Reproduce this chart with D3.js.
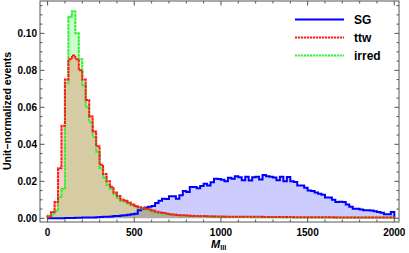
<!DOCTYPE html>
<html><head><meta charset="utf-8">
<script src="https://cdn.jsdelivr.net/npm/d3@7"></script>
<style>body{margin:0;background:#fff}svg{display:block}text{font-family:"Liberation Sans",Arial,sans-serif}</style>
</head><body><svg id="c" width="409" height="253"></svg>
<script>
const binWidth = 20;
const seriesNames = ["SG","ttw","irred"];
const sg = [0,0,0,0,0,0.0001,0.0002,0.0002,0.0003,0.0003,0.0004,0.0004,0.0005,0.0005,0.0006,
 0.0007,0.0008,0.0009,0.001,0.0012,0.0013,0.0015,0.0017,0.0019,0.0022,
 0.0025,0.0043,0.0050,0.0058,0.0063,0.0066,0.0083,0.0095,0.0106,0.0104,0.0119,0.0119,0.0106,0.0124,0.0148,
 0.0142,0.0169,0.0169,0.0162,0.0175,0.0187,0.0178,0.0195,0.0214,0.0212,
 0.0208,0.0200,0.0219,0.0214,0.0228,0.0222,0.0206,0.0225,0.0204,0.0222,
 0.0225,0.0210,0.0234,0.0228,0.0225,0.0220,0.0206,0.0225,0.0200,0.0223,
 0.0200,0.0196,0.0178,0.0178,0.0165,0.0151,0.0148,0.0140,0.0133,0.0128,
 0.0112,0.0112,0.0100,0.0088,0.0090,0.0088,0.0075,0.0062,0.0052,0.0052,
 0.0048,0.0043,0.0043,0.0042,0.0038,0.0034,0.0030,0.0022,0.0022,0.0034];
const ttw = [0.001,0.0034,0.0088,0.027,0.050,0.075,0.086,0.088,0.086,0.080,
 0.075,0.064,0.055,0.047,0.039,0.029,0.024,0.020,0.017,0.014,
 0.012,0.010,0.0095,0.0085,0.0075,0.0066,0.006,0.0056,0.0052,0.0048,
 0.0042,0.0036,0.0032,0.0028,0.0025,0.0022,0.002,0.0018,0.0017,0.0016,
 0.0015,0.0014,0.0013,0.0013,0.0012,0.0012,0.0011,0.0011,0.001,0.001,
 0.001,0.0009,0.0009,0.0009,0.0009,0.0009,0.0008,0.0008,0.0008,0.0008,
 0.0008,0.0008,0.0007,0.0007,0.0007,0.0007,0.0007,0.0007,0.0007,0.0007,
 0.0007,0.0006,0.0006,0.0006,0.0006,0.0006,0.0006,0.0006,0.0006,0.0006,
 0.0006,0.0006,0.0006,0.0005,0.0005,0.0005,0.0005,0.0005,0.0005,0.0005,
 0.0005,0.0005,0.0005,0.0005,0.0005,0.0005,0.0005,0.0005,0.0005,0.0005];
const irred = [0.0015,0.002,0.004,0.0115,0.016,0.073,0.109,0.112,0.100,0.086,
 0.072,0.060,0.052,0.044,0.036,0.027,0.022,0.018,0.016,0.013,
 0.011,0.0095,0.009,0.008,0.007,0.0063,0.0058,0.0053,0.0048,0.0042,
 0.0036,0.0031,0.0027,0.0024,0.0021,0.0019,0.0017,0.0016,0.0015,0.0014,
 0.0013,0.0012,0.0012,0.0011,0.001,0.001,0.0009,0.0009,0.0008,0.0008,
 0.0008,0.0008,0.0007,0.0007,0.0007,0.0007,0.0007,0.0007,0.0007,0.0006,
 0.0006,0.0006,0.0006,0.0006,0.0006,0.0006,0.0006,0.0006,0.0005,0.0005,
 0.0005,0.0005,0.0005,0.0005,0.0005,0.0005,0.0005,0.0005,0.0005,0.0005,
 0.0005,0.0005,0.0004,0.0004,0.0004,0.0004,0.0004,0.0004,0.0004,0.0004,
 0.0004,0.0004,0.0004,0.0004,0.0004,0.0004,0.0004,0.0004,0.0004,0.0004];
const xMajorTicks = [0,500,1000,1500,2000];
const yMajorTicks = [0,0.02,0.04,0.06,0.08,0.10];
const yTitle = "Unit\u2212normalized events";

const svg = d3.select("#c");
const L=40,R=399,T=1,B=222;
const x = d3.scaleLinear().domain([-43.8,2027]).range([L,R]);
const y = d3.scaleLinear().domain([-0.002,0.1175]).range([B,T]);

function pts(vals){const p=vals.map((v,i)=>[i*binWidth,v]);p.push([vals.length*binWidth,vals[vals.length-1]]);return p;}
const area = d3.area().x(d=>x(d[0])).y0(y(0)).y1(d=>y(d[1])).curve(d3.curveStepAfter);
const line = d3.line().x(d=>x(d[0])).y(d=>y(d[1])).curve(d3.curveStepAfter);
function outline(vals){const p=pts(vals);return [[0,0],...p,[vals.length*binWidth,0]];}

const g = svg.append("g");
g.append("clipPath").attr("id","clp").append("rect").attr("x",L).attr("y",T).attr("width",R-L).attr("height",B-T);
const pg = g.append("g").attr("clip-path","url(#clp)");
const series = [
 {name:"SG",vals:sg,col:"#0000ff",fill:"rgba(0,0,255,0.2)",dash:null},
 {name:"irred",vals:irred,col:"#33ee33",fill:"rgba(0,255,0,0.2)",dash:"3,0.6"},
 {name:"ttw",vals:ttw,col:"#ff1a1a",fill:"rgba(255,0,0,0.2)",dash:"3,0.6"}
];
series.forEach(s=>{pg.append("path").attr("d",area(pts(s.vals))).attr("fill",s.fill);});
series.forEach(s=>{
  pg.append("path").attr("d",line(outline(s.vals))).attr("fill","none").attr("stroke",s.col)
   .attr("stroke-width",2).attr("stroke-linejoin","miter").attr("stroke-dasharray",s.dash);
});

// frame & ticks
const fc="#555";
g.append("rect").attr("x",L).attr("y",T).attr("width",R-L).attr("height",B-T).attr("fill","none").attr("stroke",fc).attr("stroke-width",1);
const xMinor=d3.range(0,2001,100), yMinor=d3.range(0,0.1176,0.005);
xMinor.forEach(v=>{const maj=xMajorTicks.includes(v);const len=maj?4.5:2.5;
  g.append("line").attr("x1",x(v)).attr("x2",x(v)).attr("y1",B).attr("y2",B-len).attr("stroke",fc);
  g.append("line").attr("x1",x(v)).attr("x2",x(v)).attr("y1",T).attr("y2",T+len).attr("stroke",fc);});
yMinor.forEach(v=>{const maj=yMajorTicks.some(t=>Math.abs(t-v)<1e-9);const len=maj?4.5:2.5;
  g.append("line").attr("x1",L).attr("x2",L+len).attr("y1",y(v)).attr("y2",y(v)).attr("stroke",fc);
  g.append("line").attr("x1",R).attr("x2",R-len).attr("y1",y(v)).attr("y2",y(v)).attr("stroke",fc);});
xMajorTicks.forEach(v=>g.append("text").attr("x",x(v)).attr("y",236).attr("text-anchor","middle")
  .attr("font-size",10).attr("font-weight","bold").text(v));
yMajorTicks.forEach(v=>g.append("text").attr("x",37).attr("y",y(v)+3.5).attr("text-anchor","end")
  .attr("font-size",10).attr("font-weight","bold").text(d3.format(".2f")(v)));
g.append("text").attr("transform","translate(11,111) rotate(-90)").attr("text-anchor","middle")
  .attr("font-size",10.5).attr("font-weight","bold").text(yTitle);
const xt=g.append("text").attr("x",211).attr("y",248).attr("font-weight","bold");
xt.append("tspan").attr("font-style","italic").attr("font-size",11).text("M");
xt.append("tspan").attr("font-size",7.5).attr("dy",2).text("lll");

// legend
const legendOrder=["SG","ttw","irred"];
const cols={SG:"#0000ff",ttw:"#ff1a1a",irred:"#33ee33"};
legendOrder.forEach((n,i)=>{const yy=19.5+i*18;
  g.append("line").attr("x1",295).attr("x2",344).attr("y1",yy).attr("y2",yy).attr("stroke",cols[n]).attr("stroke-width",2)
   .attr("stroke-dasharray",n==="SG"?null:"2.2,0.8");
  g.append("text").attr("x",354).attr("y",yy+4).attr("font-size",12).attr("font-weight","bold").text(n);});
</script></body></html>
